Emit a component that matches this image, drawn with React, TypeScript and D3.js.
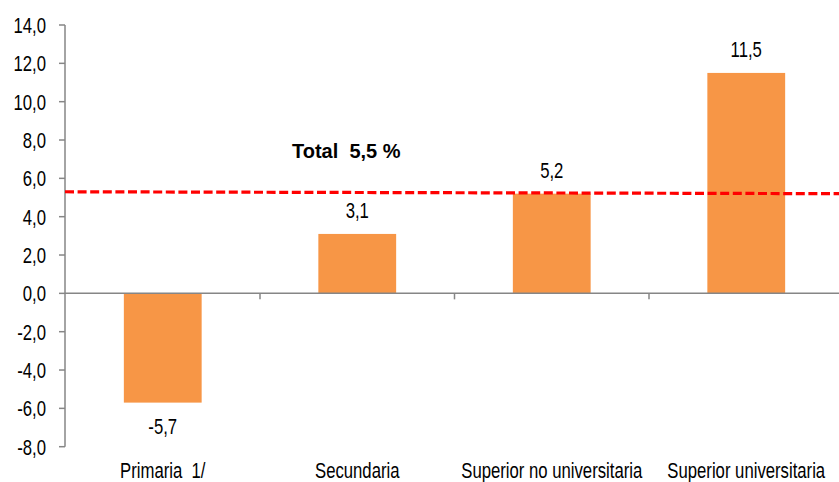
import React from "react";
import * as d3 from "d3";

const categories = ["Primaria  1/", "Secundaria", "Superior no universitaria", "Superior universitaria"];
const values = [-5.7, 3.1, 5.2, 11.5];
const valueLabels = ["-5,7", "3,1", "5,2", "11,5"];
const yTicks = [-8, -6, -4, -2, 0, 2, 4, 6, 8, 10, 12, 14];
const totalLineStart = 5.3;
const totalLineEnd = 5.2;
const totalLabel = "Total  5,5 %";

const W = 839;
const H = 482;
const FONT = "'Liberation Sans', Arial, sans-serif";

function NText(props: { x: number; y: number; size: number; anchor: string; children: React.ReactNode }) {
  return (
    <text transform={`translate(${props.x},${props.y}) scale(0.76,1)`} textAnchor={props.anchor as any}
      fontFamily={FONT} fontSize={props.size} fill="#000" style={{ whiteSpace: "pre" }}>
      {props.children}
    </text>
  );
}

export default function App() {
  const x = d3.scaleBand<string>().domain(categories).range([65.5, 843.5]).padding(0);
  const y = d3.scaleLinear().domain([-8, 14]).range([446.7, 25]);
  const bw = x.bandwidth() * 0.4;
  const fmt = (v: number) => d3.format(".1f")(v).replace(".", ",").replace("−", "-");
  const axisX = 65;
  return (
    <svg width={W} height={H} style={{ position: "absolute", left: 0, top: 0, background: "#fff" }}>
      {values.map((v, i) => {
        const cx = (x(categories[i]) as number) + x.bandwidth() / 2;
        return (
          <rect key={i} x={cx - bw / 2} y={Math.min(y(v), y(0))} width={bw}
            height={Math.abs(y(v) - y(0))} fill="#F79646" />
        );
      })}
      <line x1={axisX} x2={axisX} y1={y(14)} y2={y(-8)} stroke="#868686" strokeWidth={1.5} />
      {yTicks.map((t) => (
        <g key={t}>
          <line x1={axisX - 6} x2={axisX} y1={y(t)} y2={y(t)} stroke="#868686" strokeWidth={1.5} />
          <NText x={46} y={y(t) + 8} size={22} anchor="end">{fmt(t)}</NText>
        </g>
      ))}
      <line x1={axisX} x2={W} y1={y(0)} y2={y(0)} stroke="#868686" strokeWidth={1.5} />
      {categories.slice(1).map((c) => (
        <line key={c} x1={x(c) as number} x2={x(c) as number} y1={y(0)} y2={y(0) + 6} stroke="#868686" strokeWidth={1.5} />
      ))}
      {categories.map((c) => (
        <NText key={c} x={(x(c) as number) + x.bandwidth() / 2} y={478} size={22} anchor="middle">{c}</NText>
      ))}
      {values.map((v, i) => {
        const cx = (x(categories[i]) as number) + x.bandwidth() / 2;
        const yy = v >= 0 ? y(v) - 16 : y(v) + 31;
        return (
          <NText key={i} x={cx} y={yy} size={22} anchor="middle">{valueLabels[i]}</NText>
        );
      })}
      <line x1={axisX} x2={W} y1={y(totalLineStart)} y2={y(totalLineEnd)} stroke="#FF0000" strokeWidth={3.2}
        strokeDasharray="9 3.6" />
      <text x={292} y={158} fontFamily={FONT} fontWeight="bold" fontSize={20}
        fill="#000" style={{ whiteSpace: "pre" }}>
        {totalLabel}
      </text>
    </svg>
  );
}
